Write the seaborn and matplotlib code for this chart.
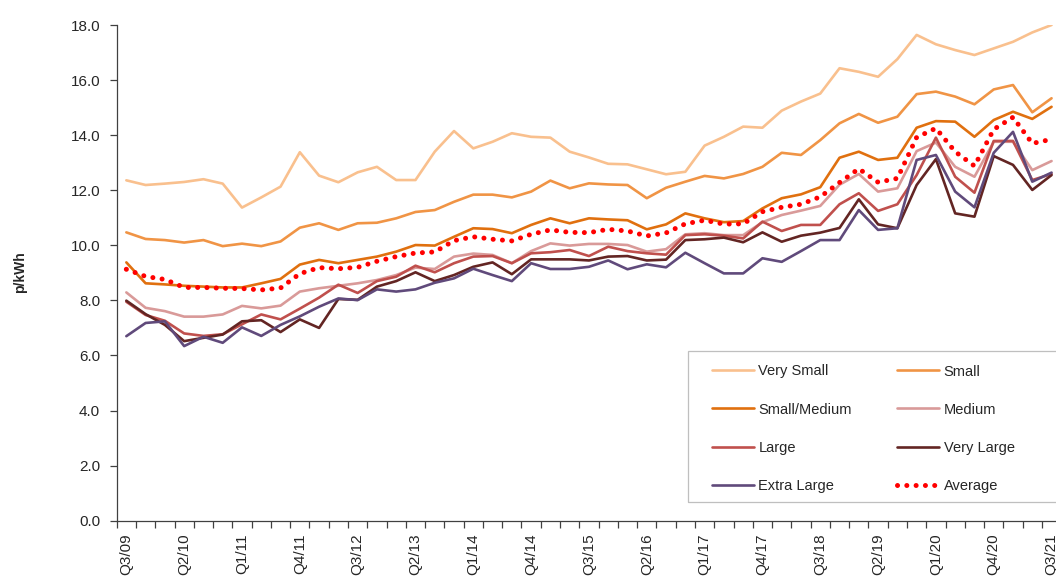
import numpy as np
import pandas as pd
import matplotlib
matplotlib.use("Agg")
import matplotlib.pyplot as plt
from matplotlib.patches import Rectangle
import seaborn as sns

# Quarter labels Q3/09 .. Q3/21
quarters = [f"Q{p.quarter}/{p.year % 100:02d}" for p in pd.period_range("2009Q3", "2021Q3", freq="Q")]

very_small = [12.36, 12.19, 12.24, 12.30, 12.40, 12.24, 11.37, 11.74, 12.13, 13.38,
              12.53, 12.29, 12.65, 12.85, 12.37, 12.37, 13.40, 14.15, 13.52, 13.76,
              14.07, 13.94, 13.91, 13.40, 13.19, 12.96, 12.94, 12.76, 12.58, 12.67,
              13.62, 13.94, 14.31, 14.27, 14.89, 15.22, 15.51, 16.43, 16.30, 16.12,
              16.76, 17.64, 17.30, 17.09, 16.91, 17.15, 17.39, 17.73, 18.00]
small = [10.47, 10.23, 10.19, 10.10, 10.19, 9.97, 10.06, 9.97, 10.14, 10.64,
         10.80, 10.56, 10.80, 10.82, 10.98, 11.21, 11.28, 11.58, 11.84, 11.84,
         11.74, 11.95, 12.35, 12.07, 12.25, 12.21, 12.19, 11.71, 12.09, 12.31,
         12.52, 12.43, 12.59, 12.85, 13.36, 13.28, 13.82, 14.43, 14.77, 14.45,
         14.67, 15.49, 15.58, 15.40, 15.12, 15.66, 15.82, 14.83, 15.34]
small_medium = [9.38, 8.62, 8.58, 8.53, 8.50, 8.47, 8.47, 8.62, 8.78, 9.30,
                9.47, 9.35, 9.47, 9.59, 9.77, 10.01, 9.99, 10.31, 10.62, 10.59,
                10.44, 10.74, 10.98, 10.80, 10.98, 10.94, 10.91, 10.58, 10.76, 11.16,
                10.98, 10.84, 10.88, 11.34, 11.71, 11.85, 12.11, 13.18, 13.40, 13.10,
                13.18, 14.27, 14.51, 14.49, 13.94, 14.55, 14.85, 14.59, 15.03]
medium = [8.29, 7.73, 7.61, 7.41, 7.41, 7.49, 7.80, 7.71, 7.81, 8.32,
          8.44, 8.53, 8.62, 8.74, 8.92, 9.19, 9.14, 9.59, 9.70, 9.65,
          9.35, 9.79, 10.07, 9.99, 10.05, 10.05, 10.01, 9.77, 9.86, 10.40,
          10.44, 10.37, 10.37, 10.84, 11.10, 11.26, 11.43, 12.20, 12.59, 11.95,
          12.07, 13.42, 13.73, 12.85, 12.49, 13.76, 13.76, 12.73, 13.06]
large = [7.95, 7.47, 7.26, 6.80, 6.71, 6.77, 7.13, 7.49, 7.31, 7.70,
         8.10, 8.57, 8.27, 8.70, 8.86, 9.26, 9.02, 9.35, 9.59, 9.61,
         9.35, 9.71, 9.75, 9.83, 9.61, 9.95, 9.79, 9.71, 9.66, 10.37,
         10.40, 10.35, 10.25, 10.86, 10.52, 10.74, 10.74, 11.49, 11.89, 11.25,
         11.49, 12.55, 13.91, 12.49, 11.91, 13.79, 13.79, 12.37, 12.59]
very_large = [7.99, 7.50, 7.11, 6.52, 6.64, 6.76, 7.24, 7.28, 6.85, 7.31,
              7.00, 8.05, 8.02, 8.50, 8.70, 9.02, 8.70, 8.92, 9.22, 9.38,
              8.95, 9.49, 9.49, 9.49, 9.45, 9.59, 9.61, 9.45, 9.48, 10.19,
              10.22, 10.28, 10.11, 10.47, 10.13, 10.35, 10.46, 10.63, 11.67, 10.76,
              10.62, 12.19, 13.13, 11.16, 11.04, 13.24, 12.92, 12.01, 12.55]
extra_large = [6.70, 7.18, 7.24, 6.34, 6.68, 6.46, 7.02, 6.71, 7.11, 7.42,
               7.77, 8.07, 8.01, 8.40, 8.32, 8.40, 8.64, 8.80, 9.15, 8.92,
               8.70, 9.35, 9.14, 9.14, 9.22, 9.45, 9.13, 9.31, 9.20, 9.73,
               9.35, 8.98, 8.98, 9.53, 9.40, 9.79, 10.19, 10.19, 11.28, 10.56,
               10.62, 13.10, 13.28, 11.95, 11.38, 13.36, 14.12, 12.31, 12.64]
average = [9.13, 8.87, 8.76, 8.47, 8.47, 8.44, 8.43, 8.38, 8.45, 8.97,
           9.19, 9.15, 9.20, 9.42, 9.59, 9.72, 9.76, 10.17, 10.31, 10.22,
           10.16, 10.40, 10.56, 10.47, 10.46, 10.58, 10.52, 10.34, 10.45, 10.78,
           10.91, 10.77, 10.78, 11.22, 11.38, 11.49, 11.76, 12.28, 12.78, 12.29,
           12.43, 13.92, 14.25, 13.40, 12.88, 14.21, 14.65, 13.70, 13.85]

series = {
    "Very Small": (very_small, "#F9C08E"),
    "Small": (small, "#F09445"),
    "Small/Medium": (small_medium, "#E0700F"),
    "Medium": (medium, "#D99A99"),
    "Large": (large, "#C0504D"),
    "Very Large": (very_large, "#632523"),
    "Extra Large": (extra_large, "#604A7B"),
}

sns.set_style("ticks")
plt.rcParams["font.family"] = ["Liberation Sans", "DejaVu Sans"]

fig = plt.figure(figsize=(10.56, 5.79), dpi=100)
ax = fig.add_axes([116.7 / 1056, 1 - 520.7 / 579, 944.5 / 1056, 495.7 / 579])

x = np.arange(len(quarters))
handles = {}
for name, (vals, col) in series.items():
    sns.lineplot(x=x, y=vals, ax=ax, color=col, linewidth=1.9, label=name)
    handles[name] = ax.lines[-1]
sns.lineplot(x=x, y=average, ax=ax, color="#FF0000", linewidth=3.6,
             linestyle=(0, (0.01, 1.85)), label="Average")
handles["Average"] = ax.lines[-1]
ax.lines[-1].set_dash_capstyle("round")

ax.set_xlim(-0.5, len(quarters) - 0.5)
ax.set_ylim(0, 18)
ax.set_yticks(np.arange(0, 18.1, 2))
ax.set_yticklabels([f"{v:.1f}" for v in np.arange(0, 18.1, 2)])
ax.set_xticks(x[::3])
ax.set_xticklabels(quarters[::3], rotation=90)
ax.set_xticks(np.arange(-0.5, len(quarters), 1), minor=True)
ax.tick_params(axis="x", which="major", length=0, pad=9, labelsize=11)
ax.tick_params(axis="x", which="minor", length=5, width=0.9, color="#404040")
ax.tick_params(axis="y", length=5, width=0.9, color="#404040", pad=7, labelsize=11)
ax.set_xlabel("")
ax.set_ylabel("")
sns.despine(ax=ax)
for s in ["left", "bottom"]:
    ax.spines[s].set_color("#404040")
    ax.spines[s].set_linewidth(0.9)

fig.text(20 / 1056, 1 - 272 / 579, "p/kWh", rotation=90, fontsize=10,
         fontweight="bold", ha="center", va="center")

order = ["Very Small", "Small/Medium", "Large", "Extra Large",
         "Small", "Medium", "Very Large", "Average"]
ax.legend([handles[k] for k in order], order, ncol=2, frameon=False,
          loc="upper left", bbox_to_anchor=(711.7 / 1056, 1 - 364.5 / 579),
          bbox_transform=fig.transFigure, borderpad=0, borderaxespad=0,
          fontsize=10.5, handlelength=2.9, handletextpad=0.3,
          columnspacing=3.1, labelspacing=1.65)
fig.add_artist(Rectangle((688 / 1056, 1 - 502 / 579), 0.4, (502 - 351) / 579,
                         transform=fig.transFigure, fill=False,
                         edgecolor="#BFBFBF", linewidth=0.9))

fig.savefig("out.png", dpi=100)
